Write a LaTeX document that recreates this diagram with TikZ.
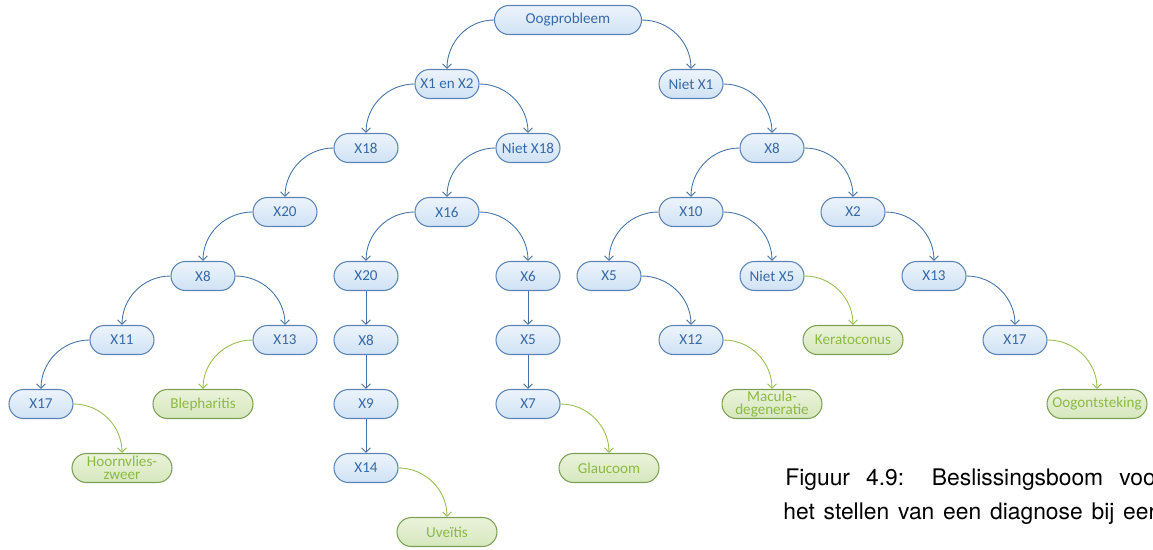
\documentclass[tikz,border=0pt]{standalone}
\usepackage{fontspec}
\setmainfont{Carlito}
\newfontfamily\capfont{TeX Gyre Heros}
\usetikzlibrary{arrows.meta}

\definecolor{condtop}{RGB}{236,244,252}
\definecolor{condbot}{RGB}{208,226,245}
\definecolor{condline}{RGB}{92,132,180}
\definecolor{condtext}{RGB}{55,105,165}
\definecolor{diagtop}{RGB}{234,243,218}
\definecolor{diagbot}{RGB}{214,231,188}
\definecolor{diagline}{RGB}{125,160,85}
\definecolor{diagtext}{RGB}{140,185,70}
\definecolor{edgeblue}{RGB}{70,115,165}
\definecolor{edgegreen}{RGB}{150,190,80}

\begin{document}
\begin{tikzpicture}[x=0.2mm, y=-0.2mm,
    font=\fontsize{8.6}{7.6}\selectfont, >={Straight Barb[length=0.9mm,width=1.8mm]},
    cond/.style={draw=condline, line width=0.6pt, top color=condtop, bottom color=condbot,
      text=condtext, rounded corners=2.9mm, minimum width=12.8mm, minimum height=5.8mm,
      inner sep=0pt, align=center},
    diag/.style={cond, draw=diagline, top color=diagtop, bottom color=diagbot,
      text=diagtext, minimum width=20mm},
    edgeb/.style={->, draw=edgeblue, line width=0.5pt},
    edgeg/.style={->, draw=edgegreen, line width=0.5pt},
    capline/.style={anchor=base west, inner sep=0pt, font=\capfont\fontsize{13}{16}\selectfont}]
  \useasboundingbox (0,0) rectangle (1153,549);
  % rows every 64, columns every 81.2
  \node[cond, minimum width=29.4mm] (root) at (568,20) {Oogprobleem};
  \node[cond] (xen)  at (447,84)  {X1 en X2};
  \node[cond] (nx1)  at (691,84)  {Niet X1};
  \node[cond] (x18)  at (366,148) {X18};
  \node[cond] (nx18) at (528,148) {Niet X18};
  \node[cond] (x8r)  at (772,148) {X8};
  \node[cond] (x20l) at (285,212) {X20};
  \node[cond] (x16)  at (447,212) {X16};
  \node[cond] (x10)  at (691,212) {X10};
  \node[cond] (x2)   at (853,212) {X2};
  \node[cond] (x8l)  at (203,276) {X8};
  \node[cond] (x20m) at (366,276) {X20};
  \node[cond] (x6)   at (528,276) {X6};
  \node[cond] (x5r)  at (609,276) {X5};
  \node[cond] (nx5)  at (772,276) {Niet X5};
  \node[cond] (x13r) at (934,276) {X13};
  \node[cond] (x11)  at (122,340) {X11};
  \node[cond] (x13l) at (285,340) {X13};
  \node[cond] (x8m)  at (366,340) {X8};
  \node[cond] (x5m)  at (528,340) {X5};
  \node[cond] (x12)  at (691,340) {X12};
  \node[diag] (kera) at (853,340) {Keratoconus};
  \node[cond] (x17r) at (1015,340) {X17};
  \node[cond] (x17l) at (41,404)  {X17};
  \node[diag] (bleph) at (203,404) {Blepharitis};
  \node[cond] (x9)   at (366,404) {X9};
  \node[cond] (x7)   at (528,404) {X7};
  \node[diag] (macula) at (772,404) {Macula-\\degeneratie};
  \node[diag] (oogont) at (1097,404) {Oogontsteking};
  \node[diag] (hoorn) at (122,468) {Hoornvlies-\\zweer};
  \node[cond] (x14)  at (366,468) {X14};
  \node[diag] (glauc) at (609,468) {Glaucoom};
  \node[diag] (uveit) at (447,532) {Uveïtis};
  % connectors
  \draw[edgeb] (root.west) to[out=180,in=90] (xen.north);
  \draw[edgeb] (root.east) to[out=0,in=90] (nx1.north);
  \draw[edgeb] (xen.west) to[out=180,in=90] (x18.north);
  \draw[edgeb] (xen.east) to[out=0,in=90] (nx18.north);
  \draw[edgeb] (nx1.east) to[out=0,in=90] (x8r.north);
  \draw[edgeb] (x18.west) to[out=180,in=90] (x20l.north);
  \draw[edgeb] (nx18.west) to[out=180,in=90] (x16.north);
  \draw[edgeb] (x8r.west) to[out=180,in=90] (x10.north);
  \draw[edgeb] (x8r.east) to[out=0,in=90] (x2.north);
  \draw[edgeb] (x20l.west) to[out=180,in=90] (x8l.north);
  \draw[edgeb] (x16.west) to[out=180,in=90] (x20m.north);
  \draw[edgeb] (x16.east) to[out=0,in=90] (x6.north);
  \draw[edgeb] (x10.west) to[out=180,in=90] (x5r.north);
  \draw[edgeb] (x10.east) to[out=0,in=90] (nx5.north);
  \draw[edgeb] (x2.east) to[out=0,in=90] (x13r.north);
  \draw[edgeb] (x8l.west) to[out=180,in=90] (x11.north);
  \draw[edgeb] (x8l.east) to[out=0,in=90] (x13l.north);
  \draw[edgeb] (x20m.south) -- (x8m.north);
  \draw[edgeb] (x6.south) -- (x5m.north);
  \draw[edgeb] (x5r.east) to[out=0,in=90] (x12.north);
  \draw[edgeg] (nx5.east) to[out=0,in=90] (kera.north);
  \draw[edgeb] (x13r.east) to[out=0,in=90] (x17r.north);
  \draw[edgeb] (x11.west) to[out=180,in=90] (x17l.north);
  \draw[edgeg] (x13l.west) to[out=180,in=90] (bleph.north);
  \draw[edgeb] (x8m.south) -- (x9.north);
  \draw[edgeb] (x5m.south) -- (x7.north);
  \draw[edgeg] (x12.east) to[out=0,in=90] (macula.north);
  \draw[edgeg] (x17r.east) to[out=0,in=90] (oogont.north);
  \draw[edgeg] (x17l.east) to[out=0,in=90] (hoorn.north);
  \draw[edgeb] (x9.south) -- (x14.north);
  \draw[edgeg] (x7.east) to[out=0,in=90] (glauc.north);
  \draw[edgeg] (x14.east) to[out=0,in=90] (uveit.north);
  % caption, cut at the right edge
  \node[capline] (cap1) at (785,485)
    {\makebox[75.6mm][s]{Figuur 4.9: Beslissingsboom voor}};
  \node[capline] (cap2) at (783,519)
    {\makebox[75.6mm][s]{het stellen van een diagnose bij een}};
\end{tikzpicture}
\end{document}
